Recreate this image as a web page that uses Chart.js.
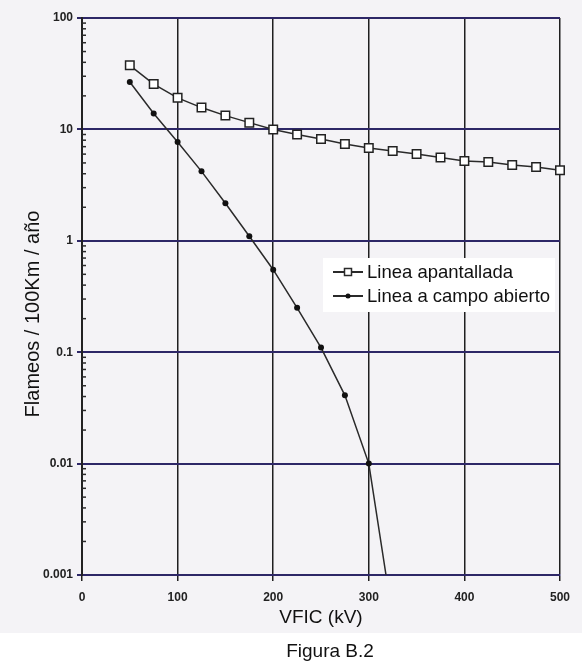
<!DOCTYPE html>
<html><head><meta charset="utf-8">
<script src="https://cdn.jsdelivr.net/npm/chart.js@4.4.0/dist/chart.umd.min.js"></script>
<style>html,body{margin:0;padding:0;background:#fff;}#wrap{width:582px;height:664px;position:relative}</style>
</head><body><div id="wrap"><canvas id="c" width="582" height="664"></canvas></div>
<script>
// ---- data ----
const vficApantallada = [50,75,100,125,150,175,200,225,250,275,300,325,350,375,400,425,450,475,500];
const flameosApantallada = [37.6,25.5,19.2,15.7,13.3,11.5,10.0,9.0,8.2,7.4,6.8,6.4,6.0,5.6,5.2,5.1,4.8,4.6,4.3];
const vficCampo = [50,75,100,125,150,175,200,225,250,275,300,318];
const flameosCampo = [26.6,13.9,7.7,4.2,2.17,1.1,0.55,0.25,0.11,0.041,0.010,0.001];
const xTicks = [0,100,200,300,400,500];
const yTicks = [0.001,0.01,0.1,1,10,100];
const seriesNames = ['Linea apantallada','Linea a campo abierto'];
const xTitle = 'VFIC (kV)';
const yTitle = 'Flameos / 100Km / año';
const caption = 'Figura B.2';

const FONT = '"Liberation Sans", Arial, sans-serif';
Chart.defaults.font.family = FONT;

const bgPlugin = {
  id: 'bg',
  beforeDraw(chart) {
    const ctx = chart.ctx;
    ctx.save();
    ctx.fillStyle = '#f4f3f6';
    ctx.fillRect(0, 0, chart.width, chart.height);
    ctx.fillStyle = '#ffffff';
    ctx.fillRect(0, 633, chart.width, chart.height - 633);
    ctx.restore();
  }
};

const minorPlugin = {
  id: 'minor',
  afterDraw(chart) {
    const ctx = chart.ctx, y = chart.scales.y, x0 = chart.chartArea.left;
    ctx.save();
    ctx.strokeStyle = '#2a2a2a';
    ctx.lineWidth = 1.5;
    for (let d = -3; d <= 1; d++) {
      for (let k = 2; k <= 9; k++) {
        const py = y.getPixelForValue(k * Math.pow(10, d));
        ctx.beginPath(); ctx.moveTo(x0, py); ctx.lineTo(x0 + 4, py); ctx.stroke();
      }
    }
    // y title
    ctx.fillStyle = '#111';
    ctx.font = '20px ' + FONT;
    ctx.textAlign = 'center'; ctx.textBaseline = 'middle';
    ctx.translate(33, 314); ctx.rotate(-Math.PI / 2);
    ctx.fillText(yTitle, 0, 0);
    ctx.restore();
    ctx.save();
    ctx.fillStyle = '#111';
    ctx.font = '19px ' + FONT;
    ctx.textAlign = 'center'; ctx.textBaseline = 'middle';
    ctx.fillText(caption, 330, 652);
    ctx.restore();
  }
};

const legendPlugin = {
  id: 'customLegend',
  afterDatasetsDraw(chart) {
    const ctx = chart.ctx;
    ctx.save();
    ctx.fillStyle = '#ffffff';
    ctx.fillRect(323, 258, 232, 54);
    const rows = [272, 296];
    ctx.font = '18.5px ' + FONT;
    ctx.textAlign = 'left'; ctx.textBaseline = 'middle';
    rows.forEach((ry, i) => {
      ctx.strokeStyle = '#2a2a2a'; ctx.lineWidth = 2;
      ctx.beginPath(); ctx.moveTo(333, ry); ctx.lineTo(363, ry); ctx.stroke();
      if (i === 0) {
        ctx.fillStyle = '#fff'; ctx.lineWidth = 1.5;
        ctx.fillRect(344.5, ry - 3.5, 7, 7); ctx.strokeRect(344.5, ry - 3.5, 7, 7);
      } else {
        ctx.fillStyle = '#111';
        ctx.beginPath(); ctx.arc(348, ry, 2.5, 0, Math.PI * 2); ctx.fill();
      }
      ctx.fillStyle = '#111';
      ctx.fillText(seriesNames[i], 367, ry + 1);
    });
    ctx.restore();
  }
};

const lastIdx = vficCampo.length - 1;
new Chart(document.getElementById('c'), {
  type: 'line',
  data: {
    datasets: [
      {
        label: seriesNames[0],
        data: vficApantallada.map((x, i) => ({x, y: flameosApantallada[i]})),
        borderColor: '#2a2a2a', borderWidth: 1.5, tension: 0, fill: false, clip: 8,
        pointStyle: 'rect', pointRadius: 6, pointBackgroundColor: '#ffffff',
        pointBorderColor: '#222', pointBorderWidth: 1.5
      },
      {
        label: seriesNames[1],
        data: vficCampo.map((x, i) => ({x, y: flameosCampo[i]})),
        borderColor: '#2a2a2a', borderWidth: 1.5, tension: 0, fill: false,
        pointStyle: 'circle', pointRadius: ctx => ctx.dataIndex === lastIdx ? 0 : 3,
        pointBackgroundColor: '#111', pointBorderColor: '#111', pointBorderWidth: 0
      }
    ]
  },
  options: {
    responsive: false, animation: false, devicePixelRatio: 1,
    layout: {padding: {left: 0, right: 22, top: 18, bottom: 28}},
    plugins: {legend: {display: false}, tooltip: {enabled: false}},
    scales: {
      x: {
        type: 'linear', min: 0, max: 500,
        afterBuildTicks: s => { s.ticks = xTicks.map(v => ({value: v})); },
        grid: {color: '#1f1f1f', lineWidth: 1.5, tickLength: 6},
        border: {display: true, color: '#2d2766', width: 2},
        ticks: {padding: 9, maxRotation: 0, autoSkip: false, color: '#222',
                font: {size: 12, weight: 'bold'}},
        title: {display: true, text: xTitle, color: '#111', font: {size: 19},
                padding: {top: 0, bottom: 7}},
        afterFit: s => { s.height = 61; }
      },
      y: {
        type: 'logarithmic', min: 0.001, max: 100,
        afterBuildTicks: s => { s.ticks = yTicks.map(v => ({value: v})); },
        grid: {color: '#2d2766', lineWidth: 2, tickLength: 5},
        border: {display: true, color: '#222', width: 2},
        ticks: {padding: 4, autoSkip: false, color: '#222',
                font: {size: 12, weight: 'bold'},
                callback: v => yTicks.includes(v) ? String(v) : ''},
        afterFit: s => { s.width = 82; }
      }
    }
  },
  plugins: [bgPlugin, minorPlugin, legendPlugin]
});
</script>
</body></html>
